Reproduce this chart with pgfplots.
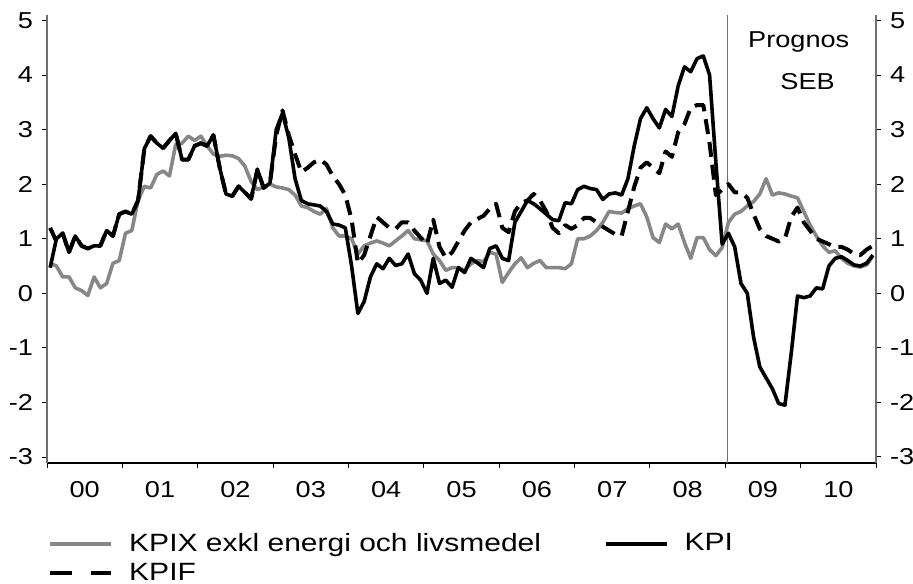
\documentclass[border=0pt]{standalone}
\usepackage{fontspec}
\setmainfont{Liberation Sans}
\usepackage{graphicx}
\usepackage{pgfplots}
\usepackage{pgfplotstable}
\pgfplotsset{compat=1.18}
\definecolor{kgray}{RGB}{135,135,135}
\definecolor{axgray}{RGB}{110,110,110}
\newcommand{\hs}[1]{\scalebox{1.18}[1]{#1}}
\newcommand{\hl}[1]{\scalebox{1.2}[1]{#1}}

% m = month index (0 = Jan 2000)
\pgfplotstableread{
m kpix kpi kpif
0 0.55 0.47 1.2
1 0.5 1.0 0.95
2 0.3 1.1 1.1
3 0.3 0.75 0.75
4 0.1 1.05 1.05
5 0.05 0.87 0.87
6 -0.04 0.82 0.82
7 0.3 0.87 0.87
8 0.1 0.87 0.87
9 0.18 1.15 1.15
10 0.55 1.05 1.05
11 0.6 1.45 1.45
12 1.1 1.5 1.5
13 1.15 1.45 1.45
14 1.7 1.7 1.7
15 1.96 2.65 2.65
16 1.93 2.88 2.88
17 2.18 2.75 2.75
18 2.24 2.66 2.66
19 2.15 2.8 2.8
20 2.73 2.93 2.93
21 2.75 2.45 2.45
22 2.88 2.45 2.45
23 2.8 2.7 2.7
24 2.88 2.75 2.75
25 2.7 2.7 2.7
26 2.55 2.9 2.9
27 2.51 2.3 2.3
28 2.53 1.82 1.82
29 2.52 1.78 1.78
30 2.47 1.96 1.96
31 2.33 1.85 1.85
32 2.05 1.73 1.73
33 1.9 2.27 2.27
34 1.95 1.93 1.93
35 2.0 2.02 2.02
36 1.95 3.0 2.9
37 1.93 3.3 3.35
38 1.9 2.85 2.9
39 1.8 2.1 2.55
40 1.6 1.7 2.22
41 1.57 1.64 2.3
42 1.5 1.62 2.4
43 1.45 1.6 2.45
44 1.55 1.5 2.36
45 1.2 1.27 2.15
46 1.05 1.25 2.0
47 1.05 1.2 1.8
48 1.0 0.5 1.35
49 0.72 -0.37 0.55
50 0.87 -0.15 0.7
51 0.92 0.3 1.05
52 0.96 0.54 1.4
53 0.92 0.45 1.3
54 0.87 0.64 1.2
55 0.96 0.51 1.18
56 1.05 0.54 1.3
57 1.15 0.72 1.3
58 1.0 0.36 1.15
59 0.98 0.24 1.02
60 0.96 0.0 0.9
61 0.72 0.64 1.35
62 0.6 0.18 0.85
63 0.42 0.24 0.65
64 0.47 0.11 0.75
65 0.47 0.47 0.95
66 0.42 0.38 1.15
67 0.54 0.64 1.3
68 0.6 0.56 1.36
69 0.58 0.47 1.42
70 0.75 0.82 1.55
71 0.72 0.87 1.64
72 0.2 0.64 1.2
73 0.38 0.6 1.12
74 0.54 1.3 1.5
75 0.65 1.5 1.66
76 0.47 1.7 1.7
77 0.55 1.64 1.82
78 0.6 1.55 1.7
79 0.47 1.45 1.5
80 0.47 1.35 1.2
81 0.47 1.33 1.1
82 0.45 1.66 1.25
83 0.54 1.64 1.18
84 1.0 1.9 1.25
85 1.0 1.96 1.38
86 1.05 1.92 1.38
87 1.15 1.9 1.3
88 1.3 1.72 1.22
89 1.5 1.82 1.15
90 1.48 1.84 1.08
91 1.47 1.8 1.05
92 1.55 2.1 1.5
93 1.6 2.7 1.95
94 1.64 3.2 2.3
95 1.4 3.4 2.4
96 1.02 3.2 2.3
97 0.93 3.03 2.2
98 1.27 3.37 2.6
99 1.18 3.24 2.5
100 1.27 3.8 2.95
101 0.93 4.15 3.1
102 0.64 4.06 3.4
103 1.02 4.3 3.45
104 1.02 4.35 3.45
105 0.8 4.0 2.75
106 0.69 2.4 1.8
107 0.84 0.9 1.9
108 1.3 1.1 2.0
109 1.45 0.85 1.85
110 1.5 0.18 1.85
111 1.6 0.0 1.75
112 1.68 -0.8 1.45
113 1.82 -1.35 1.18
114 2.1 -1.55 1.05
115 1.8 -1.75 1.0
116 1.84 -2.02 0.95
117 1.82 -2.05 1.0
118 1.78 -1.1 1.4
119 1.75 -0.05 1.57
120 1.5 -0.08 1.3
121 1.25 -0.05 1.15
122 1.05 0.1 1.0
123 0.87 0.08 0.95
124 0.75 0.5 0.9
125 0.78 0.64 0.85
126 0.64 0.67 0.85
127 0.55 0.6 0.8
128 0.5 0.52 0.72
129 0.48 0.5 0.7
130 0.52 0.55 0.8
131 0.68 0.7 0.87
}\data

\begin{document}
\begin{tikzpicture}[font=\fontsize{11.5pt}{13pt}\selectfont]
\path[use as bounding box] (-23.5pt,-60pt) rectangle (433pt,231.5pt);
\begin{axis}[
  at={(0pt,0pt)}, anchor=south west, scale only axis,
  width=414.5pt, height=224pt,
  xmin=-0.5, xmax=131.5, ymin=-3.11, ymax=5.1,
  axis x line*=bottom, axis y line*=left,
  x axis line style={black, line width=0.6pt, -},
  y axis line style={axgray, line width=0.8pt, -},
  xtick={-0.5,11.5,...,131.5},
  xticklabels={\hs{00},\hs{01},\hs{02},\hs{03},\hs{04},\hs{05},\hs{06},\hs{07},\hs{08},\hs{09},\hs{10},{}},
  xticklabel style={xshift=18.85pt, yshift=-3pt},
  ytick={-3,-2,...,5},
  yticklabel={\hs{\pgfmathprintnumber{\tick}}},
  yticklabel style={xshift=-1pt},
  /pgf/number format/assume math mode=true,
  tick align=outside, major tick length=2.5pt,
  tick style={black, line width=0.5pt},
  legend columns=2,
  legend cell align=left,
  legend style={at={(0.001,-0.147)}, anchor=north west, draw=none, fill=none,
    inner sep=0pt, row sep=0.5pt, font=\fontsize{12.5pt}{13pt}\selectfont,
    /tikz/every even column/.append style={column sep=29.5pt}},
  legend image code/.code={\draw[#1] (0pt,0pt) -- (30.5pt,0pt); \path (36.5pt,0pt);},
  line join=round,
]
\addplot[axgray, line width=0.5pt, forget plot] coordinates {(107.8,-3.11) (107.8,5.1)};
\addplot[kgray, line width=1.8pt] table[x=m, y=kpix] {\data};
\addlegendentry{\hl{KPIX exkl energi och livsmedel}}
\addplot[black, line width=1.8pt] table[x=m, y=kpi] {\data};
\addlegendentry{\hl{KPI}}
\addplot[black, line width=2pt, dash pattern=on 7.5pt off 4pt,
  legend image post style={dash pattern=on 11pt off 9.5pt}] table[x=m, y=kpif] {\data};
\addlegendentry{\hl{KPIF}}
\node at (axis cs:119.2,4.6) {\hs{Prognos}};
\node at (axis cs:120.6,3.88) {\hs{SEB}};
\end{axis}
\begin{axis}[
  at={(0pt,0pt)}, anchor=south west, scale only axis,
  width=414.5pt, height=224pt,
  xmin=-0.5, xmax=131.5, ymin=-3.11, ymax=5.1,
  axis y line*=right, axis x line=none,
  y axis line style={axgray, line width=0.8pt, -},
  ytick={-3,-2,...,5},
  yticklabel={\hs{\pgfmathprintnumber{\tick}}},
  yticklabel style={xshift=1pt},
  /pgf/number format/assume math mode=true,
  tick align=outside, major tick length=2.5pt,
  tick style={black, line width=0.5pt},
]
\end{axis}
\end{tikzpicture}
\end{document}
